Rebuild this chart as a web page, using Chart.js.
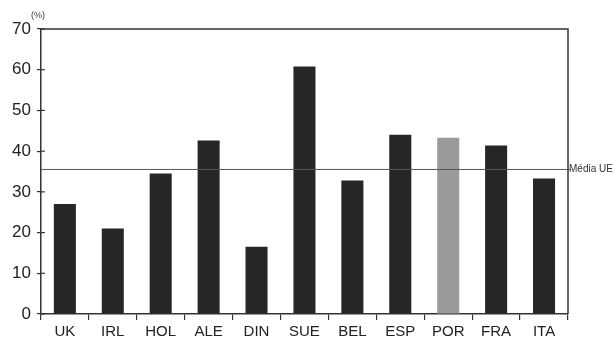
<!DOCTYPE html>
<html>
<head>
    <meta charset="utf-8">
    <title>Média UE</title>
    <script src="https://cdn.jsdelivr.net/npm/chart.js"></script>
    <style>
        body { margin: 0; background: #fff; }
        #wrap { width: 614px; height: 337px; }
    </style>
</head>
<body>
    <div id="wrap"><canvas id="chart"></canvas></div>
    <script>
        // data
        const countries = ['UK', 'IRL', 'HOL', 'ALE', 'DIN', 'SUE', 'BEL', 'ESP', 'POR', 'FRA', 'ITA'];
        const values = [27, 21, 34.5, 42.6, 16.5, 60.8, 32.8, 44, 43.3, 41.4, 33.3];
        const yTicks = [0, 10, 20, 30, 40, 50, 60, 70];
        const euAverage = 35.5;
        const averageLabel = 'Média UE';
        const unitLabel = '(%)';

        const barColors = countries.map(c => c === 'POR' ? '#9a9a9a' : '#262626');

        // frame, inner y ticks, average line and small labels
        const extras = {
            id: 'extras',
            afterDraw(chart) {
                const ctx = chart.ctx;
                const a = chart.chartArea;
                const y = chart.scales.y;
                ctx.save();
                ctx.strokeStyle = '#333';
                ctx.lineWidth = 1.5;
                ctx.beginPath();
                ctx.moveTo(a.left, a.top);
                ctx.lineTo(a.right, a.top);
                ctx.lineTo(a.right, a.bottom);
                ctx.stroke();
                // y ticks poke inside the axis too
                ctx.lineWidth = 1.2;
                yTicks.forEach(v => {
                    const py = y.getPixelForValue(v);
                    ctx.beginPath();
                    ctx.moveTo(a.left, py);
                    ctx.lineTo(a.left + 4, py);
                    ctx.stroke();
                });
                // average line
                const ly = y.getPixelForValue(euAverage);
                ctx.strokeStyle = '#555';
                ctx.lineWidth = 1;
                ctx.beginPath();
                ctx.moveTo(a.left, ly);
                ctx.lineTo(a.right + 2, ly);
                ctx.stroke();
                ctx.fillStyle = '#333';
                ctx.font = '10px "Liberation Sans", Arial, sans-serif';
                ctx.textBaseline = 'middle';
                ctx.textAlign = 'left';
                ctx.fillText(averageLabel, a.right + 1, ly);
                ctx.font = '9px "Liberation Sans", Arial, sans-serif';
                ctx.textBaseline = 'bottom';
                ctx.fillText(unitLabel, a.left - 10, a.top - 9);
                ctx.restore();
            }
        };

        new Chart(document.getElementById('chart'), {
            type: 'bar',
            data: {
                labels: countries,
                datasets: [{
                    data: values,
                    backgroundColor: barColors,
                    barPercentage: 0.46,
                    categoryPercentage: 1
                }]
            },
            options: {
                responsive: true,
                maintainAspectRatio: false,
                animation: false,
                layout: { padding: { left: 6, right: 46, top: 29, bottom: -7 } },
                plugins: { legend: { display: false }, tooltip: { enabled: false } },
                scales: {
                    x: {
                        grid: {
                            offset: true,
                            drawOnChartArea: false,
                            drawTicks: true,
                            tickLength: 6,
                            color: '#333',
                            lineWidth: 1.2
                        },
                        border: { color: '#333', width: 1.5 },
                        ticks: {
                            color: '#222',
                            padding: 3,
                            font: { family: '"Liberation Sans", Arial, sans-serif', size: 15 }
                        }
                    },
                    y: {
                        min: 0,
                        max: 70,
                        afterBuildTicks(scale) {
                            scale.ticks = yTicks.map(v => ({ value: v }));
                        },
                        grid: {
                            drawOnChartArea: false,
                            tickLength: 4,
                            color: '#333',
                            lineWidth: 1.2
                        },
                        border: { color: '#333', width: 1.5 },
                        ticks: {
                            color: '#222',
                            padding: 6,
                            font: { family: '"Liberation Sans", Arial, sans-serif', size: 17 }
                        }
                    }
                }
            },
            plugins: [extras]
        });
    </script>
</body>
</html>
